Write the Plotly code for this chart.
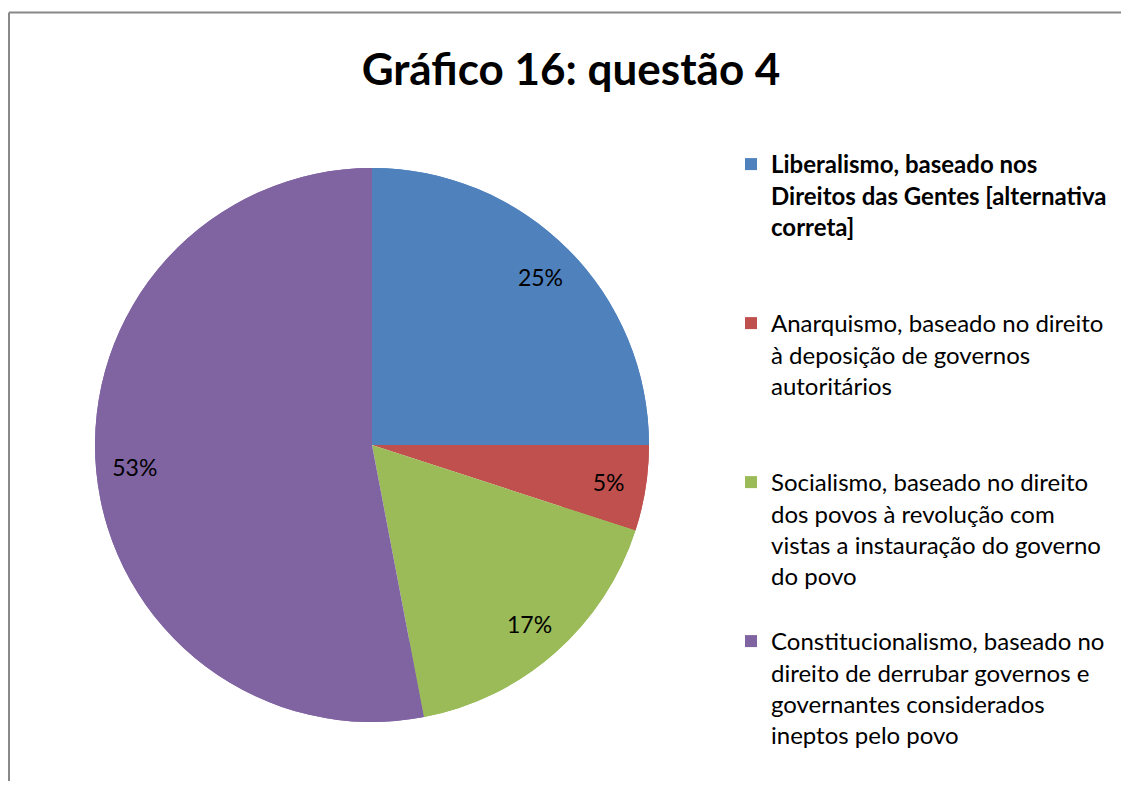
import plotly.graph_objects as go

labels = [
    "<b>Liberalismo, baseado nos<br>Direitos das Gentes [alternativa<br>correta]</b><br> <br> ",
    "Anarquismo, baseado no direito<br>à deposição de governos<br>autoritários<br> <br> ",
    "Socialismo, baseado no direito<br>dos povos à revolução com<br>vistas a instauração do governo<br>do povo<br> ",
    "Constitucionalismo, baseado no<br>direito de derrubar governos e<br>governantes considerados<br>ineptos pelo povo",
]
values = [25, 5, 17, 53]
colors = ['#4F81BD', '#C0504D', '#9BBB59', '#8064A2']

OFF = 8  # page body margin
W, H = 1129 - 2 * OFF, 789 - 2 * OFF  # keep the page free of scrollbars
font = "Lato, 'Open Sans', sans-serif"


def px(x):
    return (x - OFF) / W


def py(y):
    return 1 - (y - OFF) / H


dom = dict(x=[px(95), px(649)], y=[py(722), py(168)])

fig = go.Figure()
# filled pie
fig.add_trace(go.Pie(
    labels=labels, values=values, sort=False, direction='clockwise', rotation=0,
    marker=dict(colors=colors, line=dict(width=0)),
    textinfo='none', domain=dom, hoverinfo='label+percent',
))
# ring on top that carries the percentage labels near the outer edge
fig.add_trace(go.Pie(
    labels=labels, values=values, sort=False, direction='clockwise', rotation=0,
    hole=0.72, showlegend=False,
    marker=dict(colors=colors, line=dict(width=0)),
    texttemplate='%{percent:.0%}', textposition='inside',
    insidetextorientation='horizontal',
    textfont=dict(family=font, size=23, color='black'),
    domain=dom, hoverinfo='skip',
))

border = dict(color='#888888', width=2)
fig.update_layout(
    width=W, height=H,
    margin=dict(l=0, r=0, t=0, b=0),
    paper_bgcolor='white',
    font=dict(family=font, color='black'),
    title=dict(text="<b>Gráfico 16: questão 4</b>", x=px(571), xanchor='center',
               y=py(70), yanchor='middle', font=dict(size=44, family=font)),
    legend=dict(x=px(731), xanchor='left', y=py(142), yanchor='top',
                valign='top', font=dict(size=24, family=font), bgcolor='rgba(0,0,0,0)'),
    shapes=[
        dict(type='line', xref='paper', yref='paper',
             x0=1 / W, x1=1 / W, y0=-0.05, y1=py(12.5), line=border),
        dict(type='line', xref='paper', yref='paper',
             x0=1 / W, x1=1.05, y0=py(12.5), y1=py(12.5), line=border),
    ],
)

fig.write_html("out.html")
